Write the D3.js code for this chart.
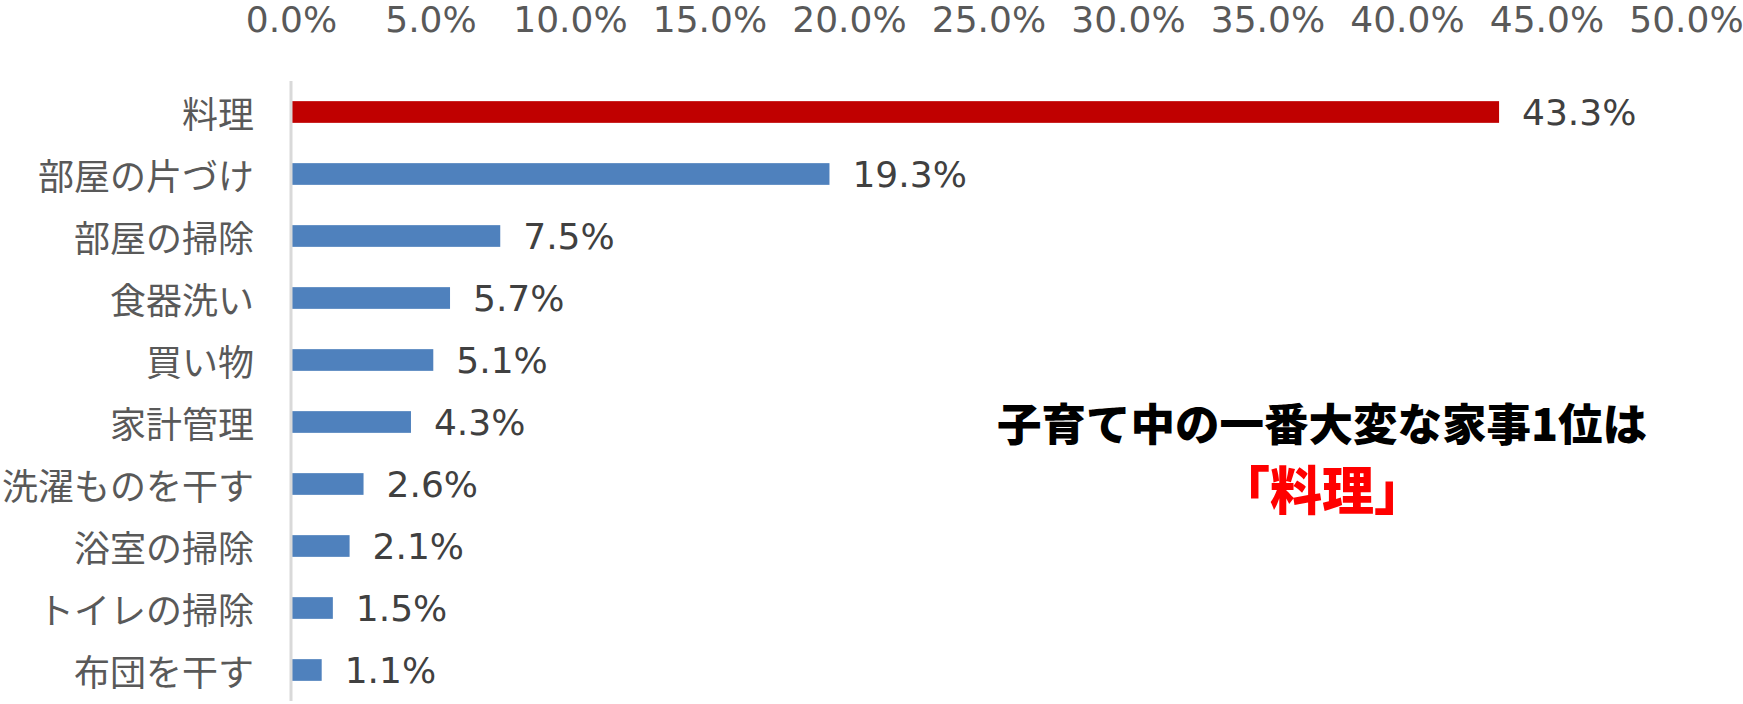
<!DOCTYPE html>
<html>
<head>
<meta charset="utf-8">
<script src="https://cdn.jsdelivr.net/npm/d3@7"></script>
<style>
  body { margin: 0; background: #fff; }
  svg { display: block; }
</style>
</head>
<body>
<svg id="chart" width="1743" height="704"></svg>
<script>
// data
const categories = ["料理", "部屋の片づけ", "部屋の掃除", "食器洗い", "買い物", "家計管理", "洗濯ものを干す", "浴室の掃除", "トイレの掃除", "布団を干す"];
const values = [43.3, 19.3, 7.5, 5.7, 5.1, 4.3, 2.6, 2.1, 1.5, 1.1];
const tickValues = [0, 5, 10, 15, 20, 25, 30, 35, 40, 45, 50];
const noteLine1 = "子育て中の一番大変な家事1位は";
const noteLine2 = "「料理」";

const width = 1743, height = 704;
const svg = d3.select("#chart");

const x = d3.scaleLinear().domain([0, 50]).range([291, 1686]);
const y = d3.scaleBand().domain(categories).range([81, 701]).paddingInner(0.65).paddingOuter(0.325);

// top axis, labels only
const xAxis = d3.axisTop(x)
    .tickValues(tickValues)
    .tickSize(0)
    .tickFormat(d => d3.format(".1f")(d) + "%");

svg.append("g")
    .attr("transform", "translate(0,32)")
    .call(xAxis)
    .call(g => g.select(".domain").remove())
    .selectAll("text")
    .attr("y", 0)
    .attr("dy", 0)
    .style("font-family", "'DejaVu Sans'")
    .style("font-size", "36px")
    .attr("fill", "#595959");

// bars
svg.append("g")
    .selectAll("rect")
    .data(values)
    .join("rect")
    .attr("x", x(0))
    .attr("y", (d, i) => y(categories[i]))
    .attr("width", d => x(d) - x(0))
    .attr("height", y.bandwidth())
    .attr("fill", (d, i) => i === 0 ? "#C00000" : "#4F81BD");

// vertical axis line
svg.append("line")
    .attr("x1", x(0)).attr("x2", x(0))
    .attr("y1", y.range()[0]).attr("y2", y.range()[1])
    .attr("stroke", "#D9D9D9")
    .attr("stroke-width", 3);

// category labels
svg.append("g")
    .selectAll("text")
    .data(categories)
    .join("text")
    .attr("x", 254)
    .attr("y", d => y(d) + y.bandwidth() / 2)
    .attr("text-anchor", "end")
    .attr("dominant-baseline", "central")
    .style("font-family", "'Noto Sans CJK JP'")
    .style("font-size", "36px")
    .attr("fill", "#595959")
    .text(d => d);

// value labels
svg.append("g")
    .selectAll("text")
    .data(values)
    .join("text")
    .attr("x", d => x(d) + 23)
    .attr("y", (d, i) => y(categories[i]) + y.bandwidth() / 2)
    .attr("dominant-baseline", "central")
    .style("font-family", "'DejaVu Sans'")
    .style("font-size", "36px")
    .attr("fill", "#404040")
    .text(d => d.toFixed(1) + "%");

// annotation
svg.append("text")
    .attr("x", 1322)
    .attr("y", 421)
    .attr("text-anchor", "middle")
    .attr("dominant-baseline", "central")
    .style("font-family", "'Noto Sans CJK JP'")
    .style("font-weight", "900")
    .style("font-size", "44.5px")
    .attr("fill", "#000")
    .text(noteLine1);

svg.append("text")
    .attr("x", 1322)
    .attr("y", 487)
    .attr("text-anchor", "middle")
    .attr("dominant-baseline", "central")
    .style("font-family", "'Noto Sans CJK JP'")
    .style("font-weight", "900")
    .style("font-size", "52px")
    .attr("fill", "#FF0000")
    .text(noteLine2);
</script>
</body>
</html>
